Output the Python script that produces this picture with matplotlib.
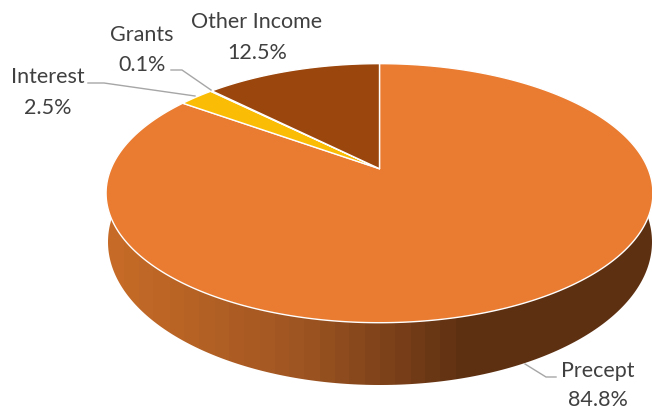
#!/usr/bin/env python

"""3D-style income pie, drawn by hand because matplotlib has no perspective pie"""

import numpy as np
import matplotlib
matplotlib.use('Agg')
import matplotlib.pyplot as plt
from matplotlib.colors import LinearSegmentedColormap
from matplotlib.patches import Polygon

CATEGORIES = ['Precept', 'Interest', 'Grants', 'Other Income']
SHARES = [84.8, 2.5, 0.1, 12.5]
SLICE_COLOURS = ['#EA7C31', '#FBBC05', '#C9A227', '#9A460C']

WALL_POSITIONS = [0.0, 0.35, 0.66, 1.0]
WALL_COLOURS = ['#C66B27', '#9F5522', '#5E3012', '#5E3012']

# label centres as (x, name y, value y) and leader polylines, in pixels
LABEL_POS = {'Precept': (598, 371, 400), 'Interest': (48, 77, 108),
             'Grants': (142, 35, 65), 'Other Income': (257, 22, 53)}
LEADERS = {'Precept': [(525, 365), (546, 378), (556, 378)],
           'Interest': [(88, 84), (104, 84), (195, 97)],
           'Grants': [(171, 71), (182, 71), (211, 91)]}

CX, CY = 379.5, 169.7
A, B, K = 268.5, 124.9, 0.189  # perspective circle: half axes and foreshortening


def rim_point(angle):
    """Angle clockwise from 12 o'clock to pixel position on the top face"""
    u, v = np.sin(angle), np.cos(angle)
    return CX + A * u / (1 + K * v), CY - B * v / (1 + K * v)


def slice_outline(start, end):
    angles = np.linspace(start, end, max(int((end - start) * 120), 3))
    xs, ys = rim_point(angles)
    return np.column_stack([np.r_[CX, xs], np.r_[CY, ys]])


fig = plt.figure(figsize=(6.52, 4.1), dpi=100)
ax = fig.add_axes([0, 0, 1, 1])
ax.set_xlim(0, 652)
ax.set_ylim(410, 0)
ax.axis('off')

# side wall: stepped horizontal gradient clipped to the lower ellipse
t = np.linspace(0, 2 * np.pi, 400)
wall = Polygon(np.column_stack([380 + 272 * np.cos(t), 243 + 143 * np.sin(t)]),
               closed=True, transform=ax.transData, facecolor='none', edgecolor='none')
ax.add_patch(wall)
wall_cmap = LinearSegmentedColormap.from_list('wall', list(zip(WALL_POSITIONS, WALL_COLOURS)), N=36)
img = ax.imshow(np.linspace(0, 1, 300).reshape(1, -1), cmap=wall_cmap, aspect='auto',
                extent=(108, 652, 410, 100), interpolation='nearest', zorder=1)
img.set_clip_path(wall)
ax.set_xlim(0, 652)
ax.set_ylim(410, 0)

# top face, clockwise from 12 o'clock
total = sum(SHARES)
start = 0.0
for share, colour in zip(SHARES, SLICE_COLOURS):
    end = start + 2 * np.pi * share / total
    ax.add_patch(Polygon(slice_outline(start, end), closed=True, facecolor=colour,
                         edgecolor='#FFFFFF', linewidth=1.0, joinstyle='round', zorder=2))
    start = end

for name, points in LEADERS.items():
    xs, ys = zip(*points)
    ax.plot(xs, ys, color='#A6A6A6', linewidth=1.0, zorder=3)

for name, share in zip(CATEGORIES, SHARES):
    x, name_y, value_y = LABEL_POS[name]
    ax.text(x, name_y, name, ha='center', va='center', family='Lato', fontsize=15.5, color='#404040')
    ax.text(x, value_y, f'{share:.1f}%', ha='center', va='center', family='Lato', fontsize=15.5, color='#404040')

fig.savefig('out.png', dpi=100)
